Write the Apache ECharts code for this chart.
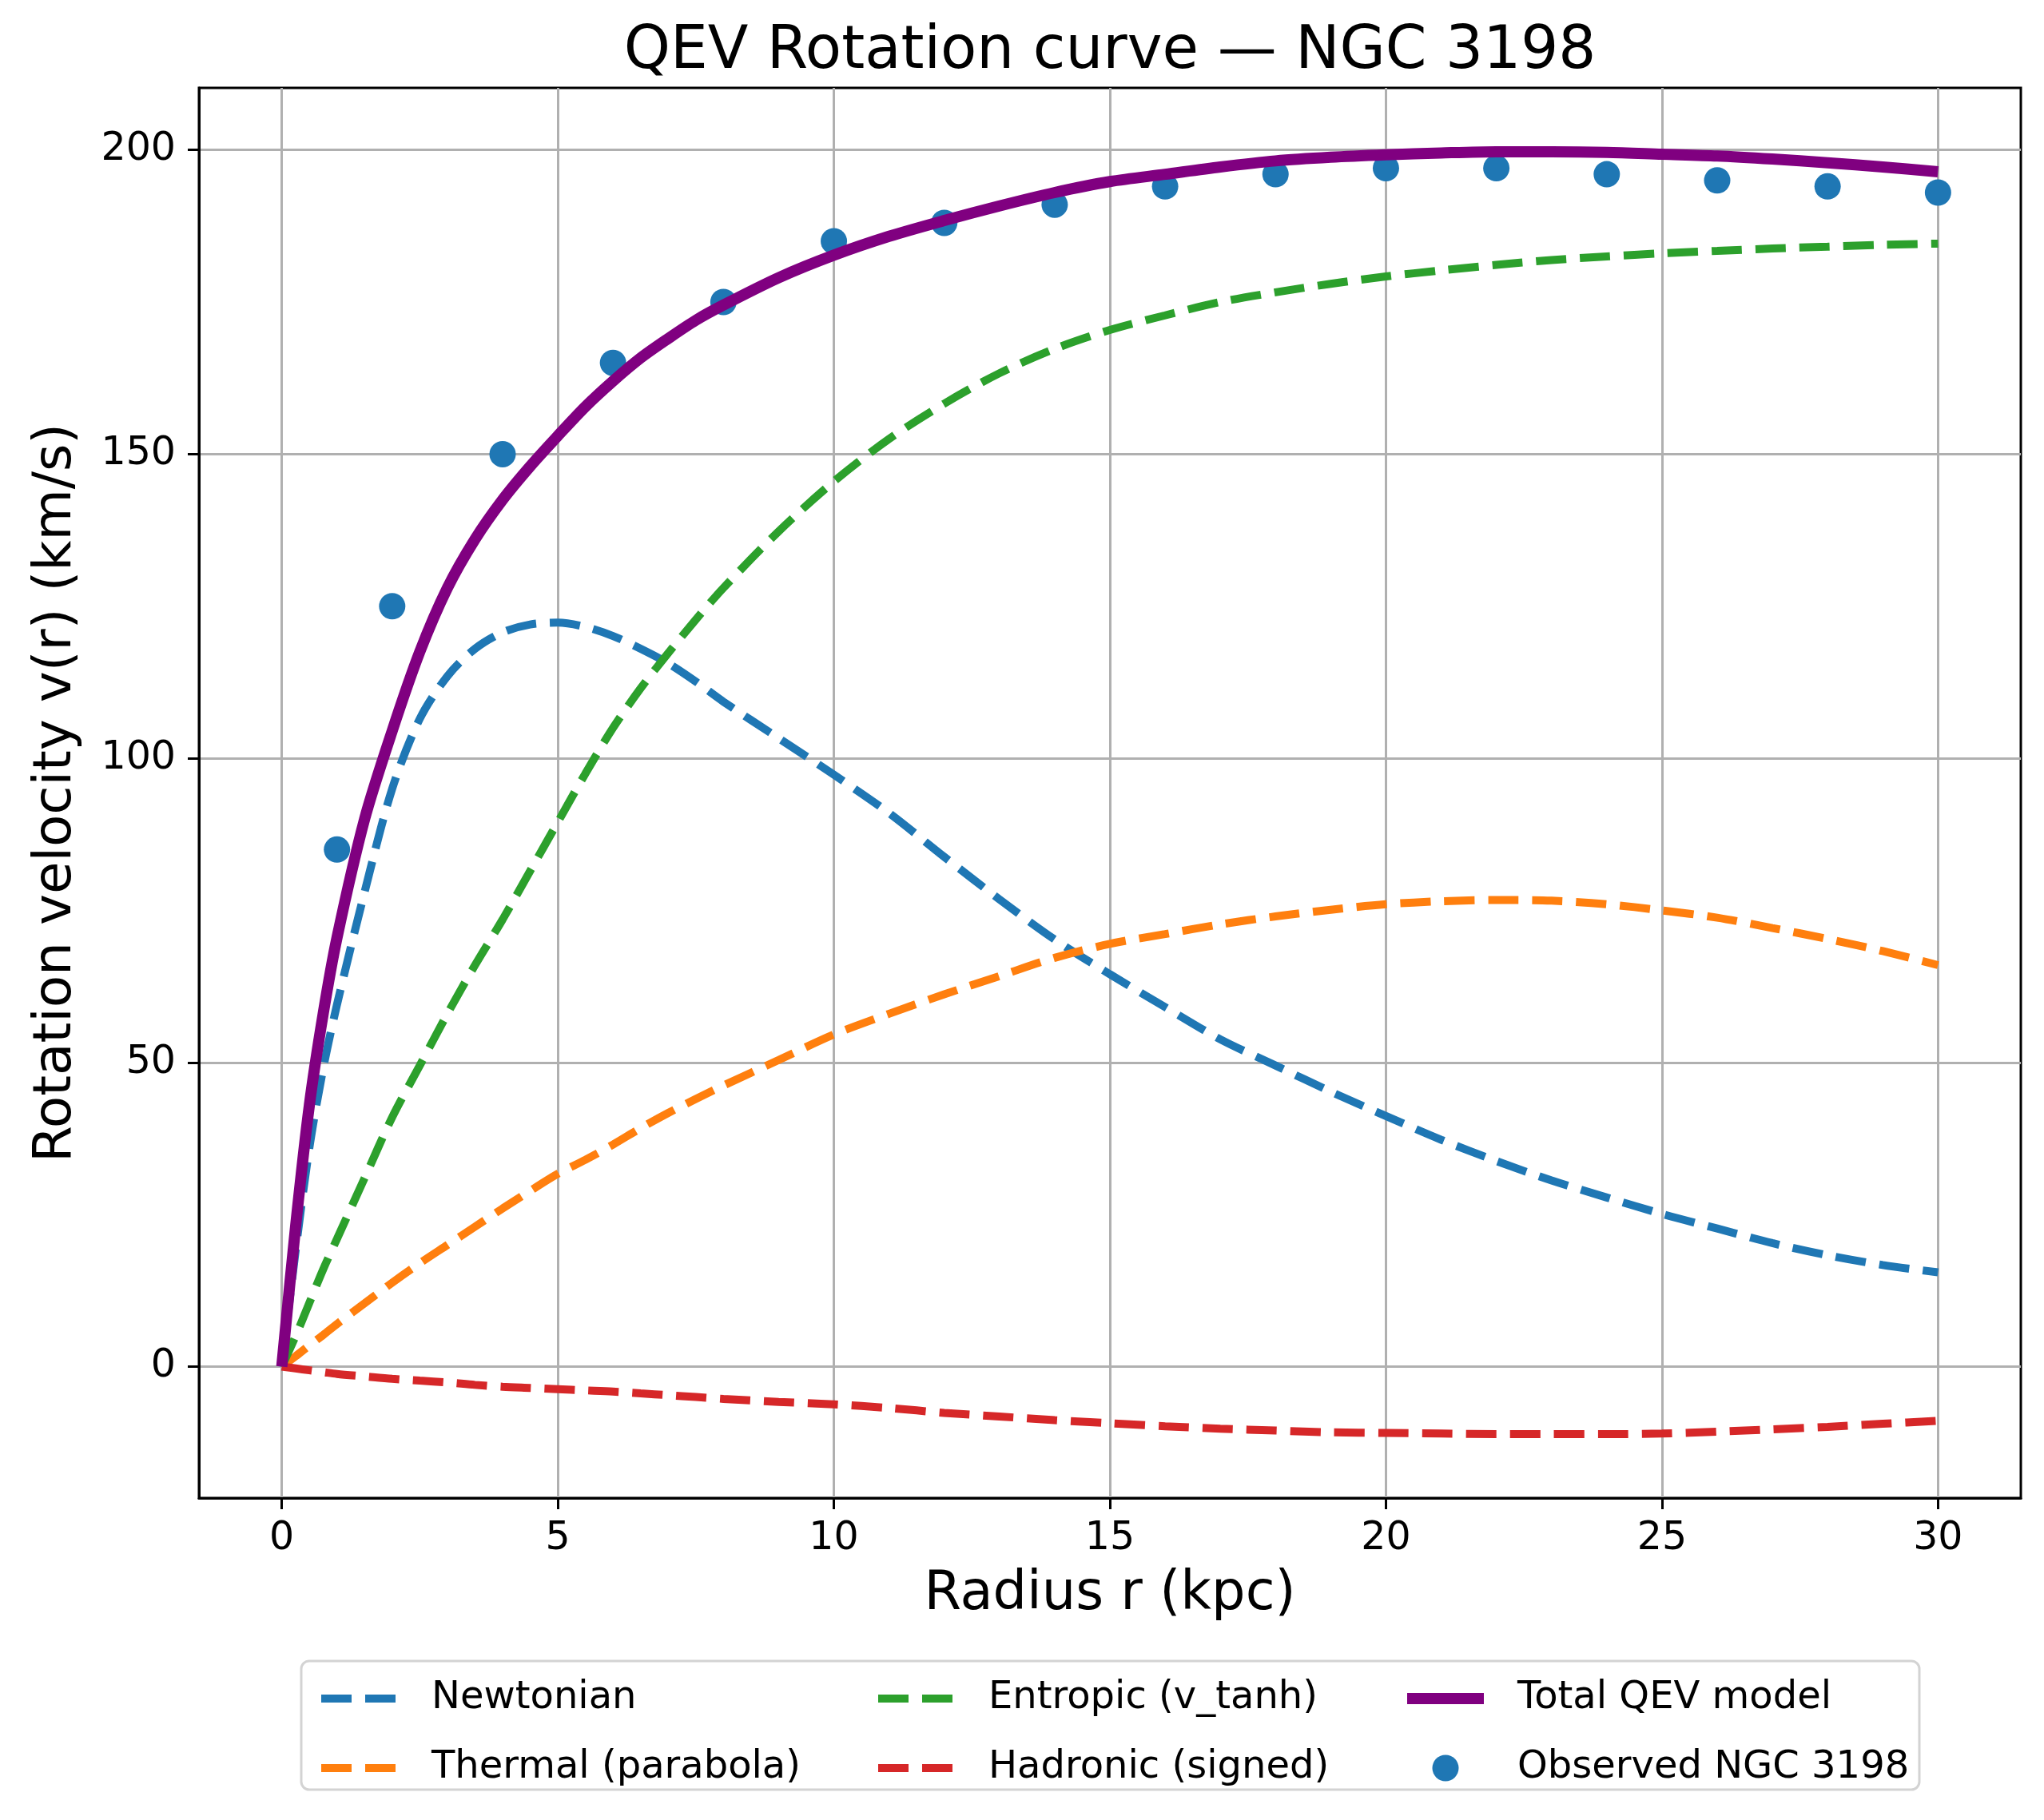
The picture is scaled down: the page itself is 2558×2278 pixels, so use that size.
<!DOCTYPE html>
<html>
<head>
<meta charset="utf-8">
<title>QEV Rotation curve — NGC 3198</title>
<script src="https://cdn.jsdelivr.net/npm/echarts@6/dist/echarts.min.js"></script>
<style>
html, body { margin: 0; padding: 0; background: #fff; }
#chart { width: 2558px; height: 2278px; }
</style>
</head>
<body>
<div id="chart"></div>
<script>
// radius grid (kpc) shared by the model curves
var radius = [0, 0.25, 0.5, 0.75, 1, 1.5, 2, 2.5, 3, 3.5, 4, 4.5, 5, 5.5, 6, 6.5, 7, 7.5, 8,
    9, 10, 11, 12, 13, 14, 15, 16, 17, 18, 19, 20, 21, 22, 23, 24, 25, 26, 27, 28, 29, 30];

var newtonian = [0, 19, 36, 49, 59.5, 78, 95, 106.5, 113.5, 118, 120.7, 122, 122.3, 121.6, 120.1, 118, 115.6, 112.6, 109.3,
    103.3, 97.3, 91, 83.8, 76.8, 70.2, 64.5, 59.1, 53.8, 49.5, 45.2, 41.2, 37.3, 33.8, 30.6, 27.8, 25.1, 22.7, 20.3, 18.3, 16.7, 15.5];

var thermal = [0, 1.7, 3.5, 5.2, 7, 10.4, 13.8, 17, 20, 23, 26, 28.9, 31.7, 34, 36.5, 39.2, 41.7, 44, 46.2,
    50.4, 54.6, 58, 61.2, 64.2, 67.2, 69.5, 71.1, 72.7, 74, 75.1, 76, 76.5, 76.7, 76.6, 76, 75, 73.8, 72.1, 70.3, 68.3, 66];

var entropic = [0, 5, 10.5, 16, 21, 31, 41, 49.5, 58, 66, 73.5, 81.5, 89.5, 97.5, 105, 111.5, 117.3, 122.8, 128,
    137.3, 145.5, 152.5, 158.3, 163.3, 167.3, 170.4, 172.8, 175, 176.6, 178, 179.2, 180.2, 181.1, 181.9, 182.5, 183, 183.4, 183.8, 184.1, 184.4, 184.6];

var hadronic = [0, -0.3, -0.6, -0.9, -1.2, -1.6, -2, -2.3, -2.6, -3, -3.3, -3.5, -3.7, -3.9, -4.1, -4.4, -4.7, -5, -5.3,
    -5.8, -6.2, -6.8, -7.6, -8.2, -8.8, -9.3, -9.8, -10.2, -10.5, -10.8, -10.9, -11, -11.1, -11.1, -11.1, -11, -10.7, -10.3, -9.9, -9.4, -8.9];

var totalQev = [0, 23, 43, 58, 70.5, 90, 104.5, 117.5, 128, 136, 142.5, 148, 153, 157.8, 162, 165.8, 169, 172, 174.5,
    179, 182.7, 185.8, 188.4, 190.8, 193, 194.8, 196, 197.2, 198.2, 198.8, 199.2, 199.5, 199.7, 199.7, 199.6, 199.3, 199, 198.5, 197.9, 197.2, 196.4];

// observed NGC 3198 points
var obsRadius = [1, 2, 4, 6, 8, 10, 12, 14, 16, 18, 20, 22, 24, 26, 28, 30];
var obsVelocity = [85, 125, 150, 165, 175, 185, 188, 191, 194, 196, 197, 197, 196, 195, 194, 193];

// tick labels
var xTicks = [0, 5, 10, 15, 20, 25, 30];
var yTicks = [0, 50, 100, 150, 200];

var FONT = 'DejaVu Sans';
var DASH = [38, 17];

function pairs(xs, ys) {
    return xs.map(function (x, i) {
        return [x, ys[i]];
    });
}

function curve(name, values, color, width, type) {
    return {
        name: name,
        type: 'line',
        data: pairs(radius, values),
        symbol: 'none',
        smooth: 0.3,
        lineStyle: {color: color, width: width, type: type},
        itemStyle: {color: color}
    };
}

// line handles only, no marker in the middle
function lineItem(name) {
    return {name: name, itemStyle: {opacity: 0}};
}

var legendText = {fontSize: 48, fontFamily: FONT, color: '#000', lineHeight: 33, padding: [0, 0, 0, 37]};

function legendCol(left, items) {
    return {
        left: left,
        top: 2102,
        orient: 'vertical',
        itemWidth: 96,
        itemHeight: 33,
        itemGap: 39,
        selectedMode: false,
        padding: 0,
        lineStyle: {width: 'inherit'},
        textStyle: legendText,
        data: items
    };
}

var chart = echarts.init(document.getElementById('chart'));

var option = {
    animation: false,
    backgroundColor: '#fff',
    title: {
        text: 'QEV Rotation curve — NGC 3198',
        left: 1389,
        top: 29,
        padding: 0,
        textAlign: 'center',
        textStyle: {fontSize: 74, fontWeight: 'normal', fontFamily: FONT, color: '#000'}
    },
    grid: {
        left: 249, top: 110, width: 2280, height: 1765,
        show: true, borderColor: '#000', borderWidth: 3,
        outerBoundsMode: 'none'
    },
    legend: [
        legendCol(397, [lineItem('Newtonian'), lineItem('Thermal (parabola)')]),
        legendCol(1094, [lineItem('Entropic (v_tanh)'), lineItem('Hadronic (signed)')]),
        legendCol(1754, [lineItem('Total QEV model'), {name: 'Observed NGC 3198'}])
    ],
    graphic: [{
        type: 'rect',
        z: -1,
        shape: {x: 377, y: 2079, width: 2025, height: 161, r: 10},
        style: {fill: 'rgba(255,255,255,0.8)', stroke: '#d3d3d3', lineWidth: 3}
    }],
    xAxis: {
        type: 'value',
        min: -1.5,
        max: 31.5,
        name: 'Radius r (kpc)',
        nameLocation: 'middle',
        nameGap: 88,
        nameTextStyle: {fontSize: 67, fontFamily: FONT, color: '#000'},
        axisLine: {show: true, onZero: false, lineStyle: {color: '#000', width: 3}},
        axisTick: {show: true, length: 14, lineStyle: {color: '#000', width: 3}, customValues: xTicks},
        axisLabel: {customValues: xTicks, margin: 27, fontSize: 49, fontFamily: FONT, color: '#000'},
        splitLine: {show: true, lineStyle: {color: '#b0b0b0', width: 3}}
    },
    yAxis: {
        type: 'value',
        min: -21.6,
        max: 210.2,
        name: 'Rotation velocity v(r) (km/s)',
        nameLocation: 'middle',
        nameGap: 145,
        nameTextStyle: {fontSize: 66, fontFamily: FONT, color: '#000'},
        axisLine: {show: true, onZero: false, lineStyle: {color: '#000', width: 3}},
        axisTick: {show: true, length: 14, lineStyle: {color: '#000', width: 3}, customValues: yTicks},
        axisLabel: {customValues: yTicks, margin: 29, fontSize: 49, fontFamily: FONT, color: '#000'},
        splitLine: {show: true, lineStyle: {color: '#b0b0b0', width: 3}}
    },
    series: [
        curve('Newtonian', newtonian, '#1f77b4', 10, DASH),
        curve('Thermal (parabola)', thermal, '#ff7f0e', 10, DASH),
        curve('Entropic (v_tanh)', entropic, '#2ca02c', 10, DASH),
        curve('Hadronic (signed)', hadronic, '#d62728', 10, DASH),
        curve('Total QEV model', totalQev, '#800080', 14, 'solid'),
        {
            name: 'Observed NGC 3198',
            type: 'scatter',
            data: pairs(obsRadius, obsVelocity),
            symbol: 'circle',
            symbolSize: 33,
            itemStyle: {color: '#1f77b4', opacity: 1}
        }
    ]
};

chart.setOption(option);
</script>
</body>
</html>
